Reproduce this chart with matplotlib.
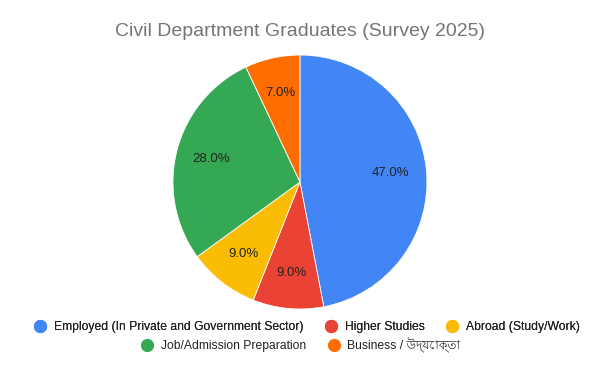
import matplotlib
matplotlib.use("Agg")
import matplotlib.pyplot as plt
from matplotlib import font_manager
from matplotlib.lines import Line2D

# data
labels = ["Employed (In Private and Government Sector)", "Higher Studies",
          "Abroad (Study/Work)", "Job/Admission Preparation", "Business / উদ্যোক্তা"]
shares = [47, 9, 9, 28, 7]
colors = ["#4285F4", "#EA4335", "#FBBC04", "#34A853", "#FF6D01"]

# look for anything that can draw Bengali
fams = ["Liberation Sans"]
for f in font_manager.fontManager.ttflist:
    if "bengali" in f.name.lower() or "lohit" in f.name.lower():
        fams.append(f.name)
        break
fams.append("DejaVu Sans")
plt.rcParams["font.family"] = fams

fig = plt.figure(figsize=(6, 3.71), dpi=100)
ax = fig.add_axes([0.2883, 0.1671, 0.4233, 0.6846])

wedges, texts, autotexts = ax.pie(
    shares, colors=colors, startangle=90, counterclock=False,
    autopct="%1.1f%%", pctdistance=0.72, radius=1,
    wedgeprops=dict(edgecolor="white", linewidth=0.6),
    textprops=dict(fontsize=9.5, color="#222222"))
ax.set_xlim(-1, 1)
ax.set_ylim(-1, 1)
ax.set_aspect("equal")

fig.text(0.5, 0.914, "Civil Department Graduates (Survey 2025)",
         ha="center", va="center", fontsize=14, color="#757575")

def handle(c):
    return Line2D([], [], marker="o", linestyle="", markersize=8.5,
                  markerfacecolor=c, markeredgecolor=c)

leg1 = fig.legend([handle(c) for c in colors[:3]], labels[:3], ncol=3,
                  loc="center", bbox_to_anchor=(0.51, 0.118), frameon=False,
                  fontsize=8.7, handletextpad=0.5, columnspacing=1.6,
                  handlelength=1.3, labelcolor="#222222")
fig.add_artist(leg1)
fig.legend([handle(c) for c in colors[3:]], labels[3:], ncol=2,
           loc="center", bbox_to_anchor=(0.5, 0.07), frameon=False,
           fontsize=8.7, handletextpad=0.5, columnspacing=1.6,
           handlelength=1.3, labelcolor="#222222")

fig.savefig("out.png", dpi=100, facecolor="white")
